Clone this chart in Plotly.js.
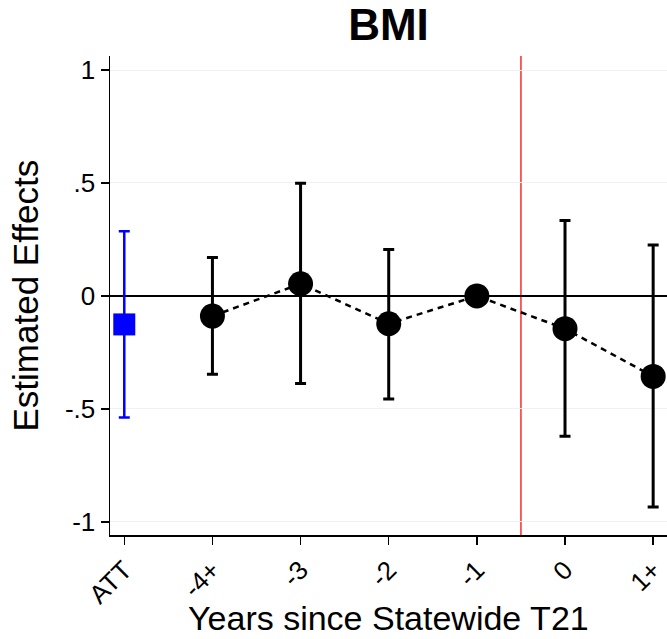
<!DOCTYPE html>
<html>
<head>
<meta charset="utf-8">
<script src="https://cdn.plot.ly/plotly-3.0.1.min.js"></script>
<style>html,body{margin:0;padding:0;background:#fff;}#chart{width:667px;height:639px;}</style>
</head>
<body>
<div id="chart"></div>
<script>
// Tick labels / categories
const categories = ['ATT', '-4+', '-3', '-2', '-1', '0', '1+'];
const yTickVals = [-1, -0.5, 0, 0.5, 1];
const yTickText = ['-1', '-.5', '0', '.5', '1'];

// ATT estimate
const attLabel = ['ATT'];
const attEst = [-0.126];
const attLo = [-0.538];
const attHi = [0.286];

// Event-study estimates
const eventLabels = ['-4+', '-3', '-2', '-1', '0', '1+'];
const eventEst = [-0.089, 0.054, -0.123, 0.0, -0.145, -0.356];
const eventLo = [-0.347, -0.388, -0.456, 0.0, -0.621, -0.934];
const eventHi = [0.170, 0.499, 0.206, 0.0, 0.334, 0.226];

const FONT = 'Liberation Sans, Arial, sans-serif';

const attTrace = {
  x: attLabel, y: attEst, type: 'scatter', mode: 'markers',
  marker: {symbol: 'square', size: 22, color: '#0000ff'},
  error_y: {type: 'data', symmetric: false,
    array: attHi.map((h, i) => h - attEst[i]),
    arrayminus: attEst.map((e, i) => e - attLo[i]),
    color: '#0000ff', thickness: 2.5, width: 5.5},
  showlegend: false, hoverinfo: 'skip'
};

const eventTrace = {
  x: eventLabels, y: eventEst, type: 'scatter', mode: 'lines+markers',
  line: {color: '#000000', width: 2.5, dash: '6px,5px'},
  marker: {symbol: 'circle', size: 25, color: '#000000'},
  error_y: {type: 'data', symmetric: false,
    array: eventHi.map((h, i) => h - eventEst[i]),
    arrayminus: eventEst.map((e, i) => e - eventLo[i]),
    color: '#000000', thickness: 3, width: 5.5},
  showlegend: false, hoverinfo: 'skip'
};

const layout = {
  width: 667, height: 639,
  margin: {l: 110, r: 0, t: 56, b: 104, pad: 0},
  paper_bgcolor: '#ffffff', plot_bgcolor: '#ffffff',
  font: {family: FONT, color: '#000000'},
  title: {text: '<b>BMI</b>', font: {family: FONT, size: 44, color: '#000000'},
    x: 0.5, xanchor: 'center', xref: 'paper', y: 1 - 25 / 639, yanchor: 'middle', yref: 'container'},
  xaxis: {
    type: 'category', categoryorder: 'array', categoryarray: categories,
    range: [-0.162, 6.157], showgrid: false, zeroline: false,
    showline: true, linecolor: '#000000', linewidth: 1.5,
    ticks: 'outside', ticklen: 8, tickwidth: 1.5, tickcolor: '#000000',
    tickangle: -45, tickfont: {family: FONT, size: 26, color: '#000000'},
    fixedrange: true
  },
  yaxis: {
    range: [-1.058, 1.062], tickvals: yTickVals, ticktext: yTickText,
    showgrid: true, gridcolor: '#edf2f2', gridwidth: 1,
    zeroline: true, zerolinecolor: '#000000', zerolinewidth: 1.5,
    showline: true, linecolor: '#000000', linewidth: 1.5,
    ticks: 'outside', ticklen: 8, tickwidth: 1.5, tickcolor: '#000000',
    tickfont: {family: FONT, size: 26, color: '#000000'},
    fixedrange: true
  },
  shapes: [
    {type: 'line', xref: 'x', yref: 'paper', x0: 4.5, x1: 4.5, y0: 0, y1: 1,
     line: {color: '#ff2a2a', width: 1.5}, layer: 'below'}
  ],
  annotations: [
    {text: 'Years since Statewide T21', xref: 'paper', yref: 'paper', x: 0.5, y: 0,
     xanchor: 'center', yanchor: 'bottom', yshift: -103, showarrow: false, borderpad: 0,
     font: {family: FONT, size: 34, color: '#000000'}},
    {text: 'Estimated Effects', xref: 'paper', yref: 'paper', x: 0, y: 0.5,
     xanchor: 'center', yanchor: 'middle', xshift: -85, textangle: -90, showarrow: false,
     font: {family: FONT, size: 35, color: '#000000'}}
  ]
};

Plotly.newPlot('chart', [attTrace, eventTrace], layout, {displayModeBar: false, staticPlot: true});
</script>
</body>
</html>
